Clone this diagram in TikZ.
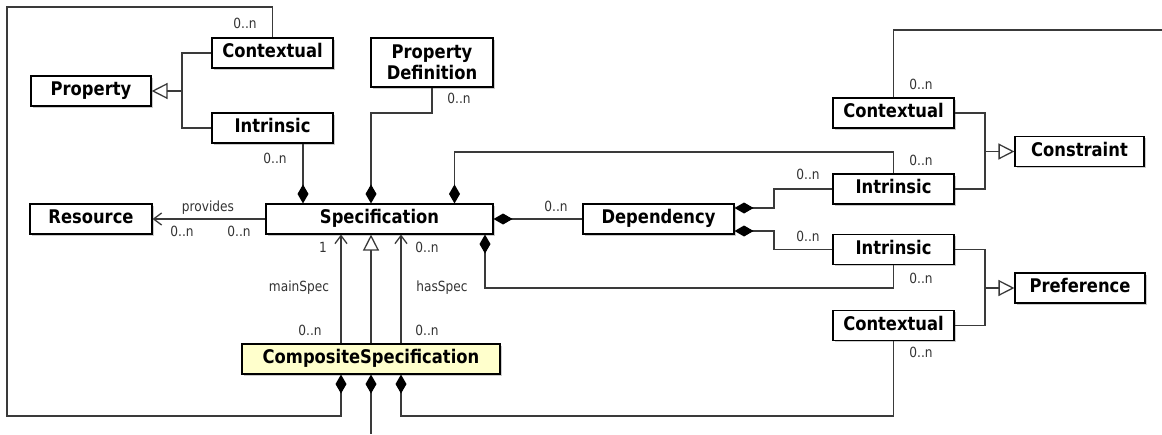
\documentclass[tikz,border=0pt]{standalone}
\usepackage{fontspec}
\setmainfont{DejaVu Sans}[FakeStretch=0.87]
\usetikzlibrary{arrows.meta,shadows}
\definecolor{linec}{HTML}{3A3A3A}
\definecolor{labc}{HTML}{333333}
\definecolor{compfill}{HTML}{FFFFCC}
\begin{document}
\begin{tikzpicture}[x=1pt,y=-1pt,
  boxbase/.style={draw=black, line width=1.1pt, fill=white, inner sep=0pt,
    font=\fontsize{18.8}{21}\selectfont\bfseries,
    drop shadow={shadow xshift=1.8pt, shadow yshift=-1.8pt, fill=black, opacity=0.2}},
  cls/.style={boxbase, minimum height=30pt, text height=13.5pt, text depth=4pt},
  lab/.style={font=\fontsize{14}{16}\selectfont, text=labc, inner sep=0pt, text height=10pt, text depth=3pt},
  ln/.style={draw=linec, line width=1.3pt},
  compo/.style={ln, {Diamond[length=19pt,width=11pt,color=black]}-},
  gen/.style={ln, -{Triangle[length=16pt,width=16pt,fill=white]}},
  assoc/.style={ln, -{Straight Barb[length=8pt,width=12pt]}}]
\useasboundingbox (0,0) rectangle (1162,434);
% classes
\node[cls, minimum width=120pt] (prop) at (91,91) {Property};
\node[cls, minimum width=121pt] (propC) at (272.5,53) {Contextual};
\node[cls, minimum width=121pt] (propI) at (272.5,128) {Intrinsic};
\node[boxbase, minimum width=122pt, minimum height=49pt, align=center] (propDef) at (432,62.5) {Property\\Definition};
\node[cls, minimum width=122pt] (res) at (91,219) {Resource};
\node[cls, minimum width=227pt] (spec) at (379.5,219) {Specification};
\node[cls, minimum width=151pt] (dep) at (658.5,219) {Dependency};
\node[cls, minimum width=121pt] (conC) at (893.5,113) {Contextual};
\node[cls, minimum width=121pt] (conI) at (893.5,189) {Intrinsic};
\node[cls, minimum width=129pt] (cons) at (1079.5,151.5) {Constraint};
\node[cls, minimum width=121pt] (prefI) at (893.5,249.5) {Intrinsic};
\node[cls, minimum width=121pt] (prefC) at (893.5,325.5) {Contextual};
\node[cls, minimum width=130pt] (pref) at (1080,288) {Preference};
\node[cls, minimum width=258pt, fill=compfill] (comp) at (371,359) {CompositeSpecification};
% coordinates
\coordinate (s1) at ([xshift=-76.5pt]spec.north);
\coordinate (s2) at ([xshift=-8.5pt]spec.north);
\coordinate (s3) at ([xshift=75pt]spec.north);
\coordinate (s4) at ([xshift=105.5pt]spec.south);
\coordinate (cL) at ([xshift=-30pt]comp.south);
\coordinate (cR) at ([xshift=30pt]comp.south);
\coordinate (nL) at ([xshift=-30pt]comp.north);
\coordinate (nR) at ([xshift=30pt]comp.north);
\coordinate (d1) at ([yshift=11pt]dep.east);
\coordinate (d2) at ([yshift=-12pt]dep.east);
\coordinate (bl) at (7,416);
\coordinate (tl) at (7,7);
\coordinate (pd) at (371,113);
\coordinate (c4) at (454.5,152);
\coordinate (k1) at (774,208);
\coordinate (k2) at (774,231);
\coordinate (k3) at (485,288);
\coordinate (k4) at (401,416);
\coordinate (cB) at (371,434);
\coordinate (edgeR) at (1162,30);
\coordinate (pj) at (182,91);
\coordinate (cj) at (985,151.5);
\coordinate (pj2) at (985,288);
% generalizations
\draw[ln] (propC.west) -| (pj) |- (propI.west);
\draw[gen] (pj) -- (prop.east);
\draw[ln] (conC.east) -| (cj) |- (conI.east);
\draw[gen] (cj) -- (cons.west);
\draw[ln] (prefI.east) -| (pj2) |- (prefC.east);
\draw[gen] (pj2) -- (pref.west);
\draw[gen] (comp.north) -- (comp.north |- spec.south);
% compositions
\draw[compo] (cL) |- (bl) -- (tl) -| (propC.north);
\draw[compo] (s1) -- (s1 |- propI.south);
\draw[compo] (s2) -- (pd) -| (propDef.south);
\draw[compo] (s3) -- (c4) -| (conI.north);
\draw[compo] (spec.east) -- (dep.west);
\draw[compo] (d1) -- (k1) |- (conI.west);
\draw[compo] (d2) -- (k2) |- (prefI.west);
\draw[compo] (s4) -- (k3) -| (prefI.south);
\draw[compo] (cR) -- (k4) -| (prefC.south);
\draw[compo] (comp.south) -- (cB);
\draw[ln] (conC.north) |- (edgeR);
% associations
\draw[assoc] (nL) -- (nL |- spec.south);
\draw[assoc] (nR) -- (nR |- spec.south);
\draw[assoc] (spec.west) -- (res.east);
% labels
\node[lab] (l1) at (245,25) {0..n};
\node[lab] (l2) at (275,160) {0..n};
\node[lab] (l3) at (459,100) {0..n};
\node[lab] (l4) at (921,162) {0..n};
\node[lab] (l5) at (556,208) {0..n};
\node[lab] (l6) at (808,176) {0..n};
\node[lab] (l7) at (808,238) {0..n};
\node[lab] (l8) at (921,280) {0..n};
\node[lab] (l9) at (921,354) {0..n};
\node[lab] (l10) at (921,86) {0..n};
\node[lab] (l11) at (182,233) {0..n};
\node[lab] (l12) at (239,233) {0..n};
\node[lab] (l13) at (208,208) {provides};
\node[lab] (l14) at (323,249) {1};
\node[lab] (l15) at (299,288) {mainSpec};
\node[lab] (l16) at (310,332) {0..n};
\node[lab] (l17) at (427,249) {0..n};
\node[lab] (l18) at (442,288) {hasSpec};
\node[lab] (l19) at (427,332) {0..n};
\end{tikzpicture}
\end{document}
